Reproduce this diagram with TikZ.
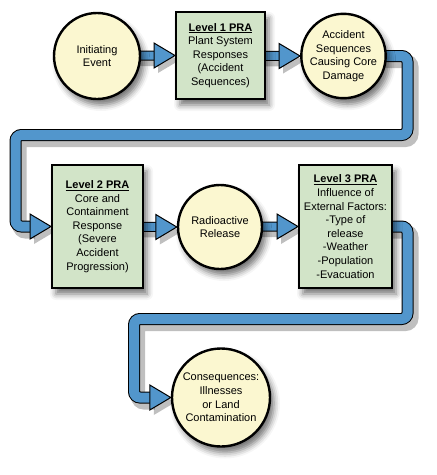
\documentclass[tikz,border=0pt]{standalone}
\usepackage{fontspec}
\setmainfont{Liberation Sans}
\usetikzlibrary{calc,shadows.blur}
\definecolor{cfill}{HTML}{FBF7D0}
\definecolor{bfill}{HTML}{D2E4C8}
\definecolor{pipecol}{HTML}{5296CC}
\pgfdeclarelayer{bg}
\pgfdeclarelayer{paper}
\pgfsetlayers{paper,bg,main}
\tikzset{
  txt/.style={font=\fontsize{11}{13.6}\selectfont, align=center, text=black},
  shd/.style={blur shadow={shadow xshift=4pt, shadow yshift=-6pt, shadow blur radius=6pt, shadow opacity=55}},
  evt/.style={txt, circle, draw=black, line width=2.4pt, fill=cfill, inner sep=0pt, shd},
  pra/.style={txt, rectangle, draw=black, line width=2pt, fill=bfill, inner sep=0pt, shd},
  pipeln/.style={draw=black, line width=1pt, double=pipecol, double distance=10pt, rounded corners=6pt},
  shortln/.style={draw=black, line width=1pt, double=pipecol, double distance=8pt},
  pshadow/.style={draw=black, line width=14pt, opacity=0.25, rounded corners=6pt, transform canvas={shift={(4pt,-5pt)}}},
  headst/.style={fill=pipecol, draw=black, line width=1pt, line join=miter},
  hshadow/.style={fill=black, opacity=0.25, transform canvas={shift={(4pt,-5pt)}}},
}
\newcommand\ahead[1]{%
  \begin{pgfonlayer}{bg}\fill[hshadow] (#1) -- ++(-21,-12.5) -- ++(0,25) -- cycle;\end{pgfonlayer}
  \draw[headst] (#1) -- ++(-21,-12.5) -- ++(0,25) -- cycle;}
\begin{document}
\begin{tikzpicture}[x=1pt,y=-1pt]
\begin{pgfonlayer}{paper}
\fill[white] (0,0) rectangle (437,475);
\end{pgfonlayer}
\useasboundingbox (0,0) rectangle (437,475);
% dummy shadow outside the page (initialises the shadow fading)
\node[shd, circle, fill=white, minimum size=10pt] (dummy) at (-300,-300) {};
% nodes
\node[evt, minimum size=86pt] (init) at (97,56) {Initiating\\Event};
\node[pra, minimum width=89pt, minimum height=87pt] (lvl1) at (220.5,55.5)
  {\underline{\textbf{Level 1 PRA}}\\Plant System\\Responses\\(Accident\\Sequences)};
\node[evt, minimum size=84pt] (acc) at (343.5,56) {Accident\\Sequences\\Causing Core\\Damage};
\node[pra, minimum width=91pt, minimum height=123pt] (lvl2) at (97.5,226.5)
  {\underline{\textbf{Level 2 PRA}}\\Core and\\Containment\\Response\\(Severe\\Accident\\Progression)};
\node[evt, minimum size=84pt] (rad) at (220,227) {Radioactive\\Release};
\node[pra, minimum width=93pt, minimum height=123pt] (lvl3) at (345.5,226.5)
  {\underline{\textbf{Level 3 PRA}}\\Influence of\\External Factors:\\-Type of\\release\\-Weather\\-Population\\-Evacuation};
\node[evt, minimum size=98pt] (cons) at (221,397.5) {Consequences:\\Illnesses\\or Land\\Contamination};
% connectors
\begin{pgfonlayer}{bg}
  % short arrows
  \draw[pshadow, line width=11pt] (init.center) -- ($(lvl1.west)+(-20,0)$);
  \draw[shortln] (init.center) -- ($(lvl1.west)+(-20,0)$);
  \draw[pshadow, line width=11pt] (lvl1.center) -- ($(acc.west)+(-20,0)$);
  \draw[shortln] (lvl1.center) -- ($(acc.west)+(-20,0)$);
  \draw[pshadow, line width=11pt] (lvl2.center) -- ($(rad.west)+(-20,0)$);
  \draw[shortln] (lvl2.center) -- ($(rad.west)+(-20,0)$);
  \draw[pshadow, line width=11pt] (rad.center) -- ($(lvl3.west)+(-20,0)$);
  \draw[shortln] (rad.center) -- ($(lvl3.west)+(-20,0)$);
  % long pipes
  \draw[pshadow] (acc.center) -- (407.5,56) -- (407.5,135) -- (15.5,135) -- (15.5,226.5) -- ($(lvl2.west)+(-20,0)$);
  \draw[pipeln] (acc.center) -- (407.5,56) -- (407.5,135) -- (15.5,135) -- (15.5,226.5) -- ($(lvl2.west)+(-20,0)$);
  \draw[pshadow] (lvl3.center) -- (407.5,226.5) -- (407.5,319) -- (134,319) -- (134,397.5) -- ($(cons.west)+(-20,0)$);
  \draw[pipeln] (lvl3.center) -- (407.5,226.5) -- (407.5,319) -- (134,319) -- (134,397.5) -- ($(cons.west)+(-20,0)$);
\end{pgfonlayer}
\ahead{lvl1.west}
\ahead{acc.west}
\ahead{lvl2.west}
\ahead{rad.west}
\ahead{lvl3.west}
\ahead{cons.west}
\end{tikzpicture}
\end{document}
